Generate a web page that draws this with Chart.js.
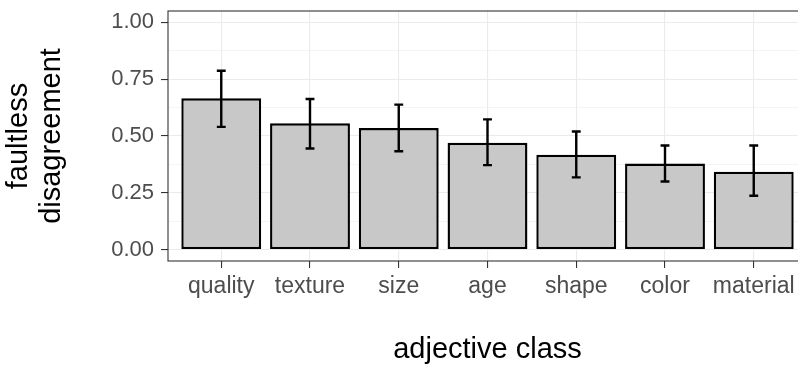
<!DOCTYPE html>
<html>
<head>
<meta charset="utf-8">
<script src="https://cdn.jsdelivr.net/npm/chart.js@4"></script>
<style>
  html, body { margin: 0; padding: 0; background: #fff; overflow: hidden; }
  #wrap { width: 798px; height: 367px; overflow: hidden; }
  #box { width: 807px; height: 367px; }
</style>
</head>
<body>
<div id="wrap"><div id="box"><canvas id="chart"></canvas></div></div>
<script>
const categories = ['quality', 'texture', 'size', 'age', 'shape', 'color', 'material'];
const means = [0.666, 0.556, 0.535, 0.470, 0.418, 0.379, 0.343];
const errLow = [0.540, 0.445, 0.433, 0.372, 0.318, 0.300, 0.237];
const errHigh = [0.787, 0.663, 0.638, 0.573, 0.520, 0.458, 0.458];
const yMajor = [0, 0.25, 0.5, 0.75, 1];
const yMinor = [0.125, 0.375, 0.625, 0.875];

const isMajor = v => yMajor.some(m => Math.abs(m - v) < 1e-6);

// error bars + panel border, drawn through the chart's own scales
const errorBars = {
    id: 'errorBars',
    afterDatasetsDraw(chart) {
        const { ctx, scales: { x, y } } = chart;
        ctx.save();
        ctx.strokeStyle = '#000';
        ctx.lineWidth = 2.4;
        ctx.lineCap = 'butt';
        categories.forEach((c, i) => {
            const px = x.getPixelForValue(i);
            const hw = (x.getPixelForValue(0.05) - x.getPixelForValue(0));
            const top = y.getPixelForValue(errHigh[i]);
            const bot = y.getPixelForValue(errLow[i]);
            ctx.beginPath();
            ctx.moveTo(px, top); ctx.lineTo(px, bot);
            ctx.moveTo(px - hw, top); ctx.lineTo(px + hw, top);
            ctx.moveTo(px - hw, bot); ctx.lineTo(px + hw, bot);
            ctx.stroke();
        });
        const a = chart.chartArea;
        ctx.strokeStyle = '#333333';
        ctx.lineWidth = 1.1;
        ctx.strokeRect(a.left, a.top, a.right - a.left, a.bottom - a.top);
        ctx.restore();
    }
};

new Chart(document.getElementById('chart'), {
    type: 'bar',
    data: {
        datasets: [{
            data: categories.map((c, i) => ({ x: i, y: means[i] })),
            backgroundColor: '#c8c8c8',
            borderColor: '#000',
            borderWidth: 2.4,
            borderSkipped: false,
            categoryPercentage: 1,
            barPercentage: 0.9
        }]
    },
    options: {
        responsive: true,
        maintainAspectRatio: false,
        animation: false,
        layout: { padding: { top: 11, right: 0, left: 0, bottom: 0 } },
        plugins: { legend: { display: false }, tooltip: { enabled: false } },
        scales: {
            x: {
                type: 'linear',
                offset: false,
                min: -0.6,
                max: 6.6,
                afterBuildTicks: s => { s.ticks = categories.map((c, i) => ({ value: i })); },
                afterFit: s => { s.height = 106; s.paddingLeft = 0; s.paddingRight = 0; },
                ticks: {
                    callback: v => categories[v],
                    color: '#4d4d4d',
                    font: { family: 'Liberation Sans, Arial, sans-serif', size: 23 },
                    padding: 5,
                    maxRotation: 0,
                    autoSkip: false
                },
                grid: { offset: false, color: '#ebebeb', lineWidth: 1.1, tickLength: 7, tickColor: '#333333', tickWidth: 1.1 },
                border: { display: false },
                title: {
                    display: true,
                    text: 'adjective class',
                    color: '#000',
                    font: { family: 'Liberation Sans, Arial, sans-serif', size: 29 },
                    padding: { top: 0, bottom: 0 }
                }
            },
            y: {
                min: -0.05,
                max: 1.05,
                afterBuildTicks: s => { s.ticks = [...yMajor, ...yMinor].sort((a, b) => a - b).map(v => ({ value: v })); },
                afterFit: s => { s.width = 168; s.paddingTop = 0; s.paddingBottom = 0; },
                ticks: {
                    callback: v => isMajor(v) ? v.toFixed(2) : '',
                    color: '#4d4d4d',
                    font: { family: 'Liberation Sans, Arial, sans-serif', size: 22 },
                    padding: 7
                },
                grid: {
                    color: '#ebebeb',
                    lineWidth: c => isMajor(c.tick.value) ? 1.1 : 0.55,
                    tickLength: 7,
                    tickColor: c => isMajor(c.tick.value) ? '#333333' : 'rgba(0,0,0,0)',
                    tickWidth: 1.1
                },
                border: { display: false },
                title: {
                    display: true,
                    text: ['faultless', 'disagreement'],
                    color: '#000',
                    font: { family: 'Liberation Sans, Arial, sans-serif', size: 29, lineHeight: 1.14 },
                    padding: { top: 2, bottom: 0 }
                }
            }
        }
    },
    plugins: [errorBars]
});
</script>
</body>
</html>
